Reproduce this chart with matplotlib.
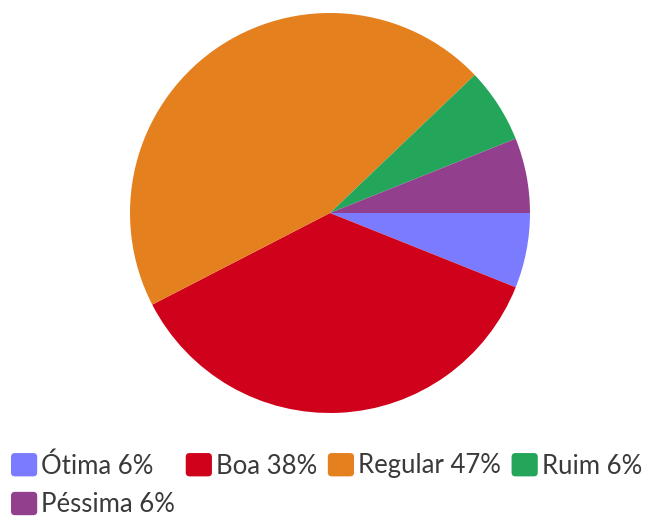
import numpy as np
import matplotlib.pyplot as plt
from matplotlib.patches import FancyBboxPatch
from matplotlib.legend_handler import HandlerPatch

categories = ['Ótima', 'Boa', 'Regular', 'Ruim', 'Péssima']
values = [2, 12, 15, 2, 2]          # slice sizes
percent_labels = ['6%', '38%', '47%', '6%', '6%']
colors = ['#7b7bff', '#d0021b', '#e5801f', '#23a55a', '#923f8e']

W, H = 646, 517
fig = plt.figure(figsize=(W/100, H/100), dpi=100)

# pie centred at (330, 213) px, radius 200 px
cx, cy, r = 330, 213, 200
ax = fig.add_axes([(cx-r)/W, (H-cy-r)/H, 2*r/W, 2*r/H])
wedges, _ = ax.pie(values, colors=colors, startangle=0, counterclock=False,
                   radius=1, wedgeprops=dict(linewidth=0))
ax.set_xlim(-1, 1)
ax.set_ylim(-1, 1)
ax.set_aspect('equal')
ax.axis('off')


def rounded_square(legend, orig_handle, xdescent, ydescent, width, height, fontsize):
    return FancyBboxPatch((-xdescent, -ydescent), width, height,
                          boxstyle='round,pad=0,rounding_size=%f' % (width*0.15))


labels = [c + ' ' + p for c, p in zip(categories, percent_labels)]
# column-major fill: put the last item under the first one
order = [0, 4, 1, 2, 3]
leg = fig.legend([wedges[i] for i in order], [labels[i] for i in order],
                 ncol=4, loc='upper left', bbox_to_anchor=(11/W, 1 - 453/H),
                 frameon=False, borderpad=0, borderaxespad=0,
                 handlelength=1.02, handleheight=1.02, handletextpad=0.15,
                 columnspacing=0.42, labelspacing=0.52,
                 handler_map={w: HandlerPatch(patch_func=rounded_square) for w in wedges},
                 prop={'family': 'Lato', 'size': 18.5})
for t in leg.get_texts():
    t.set_color('#3a3a3a')

fig.savefig('out.png', dpi=100)
